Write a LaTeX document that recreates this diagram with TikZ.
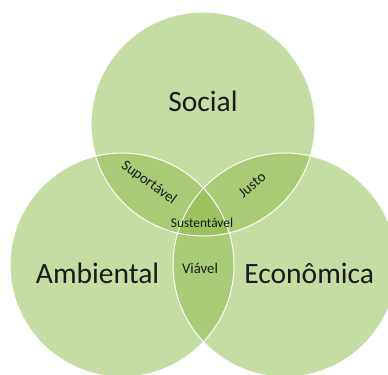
\documentclass[tikz,border=0pt]{standalone}
\usepackage{fontspec}
\setmainfont{Carlito}
\usepackage{xcolor}
\usetikzlibrary{positioning,calc}
\definecolor{venlight}{HTML}{C5DDA3}
\definecolor{venmid}{HTML}{A9CB76}
\definecolor{vendark}{HTML}{9CC25F}
\definecolor{ventext}{HTML}{1A1A1A}

\begin{document}
\begin{tikzpicture}[
  ring/.style={draw=white, line width=0.7pt},
  big/.style={font=\fontsize{21}{24}\selectfont, text=ventext},
  small/.style={font=\fontsize{10.5}{12}\selectfont, text=ventext},
  tiny/.style={font=\fontsize{9.5}{11}\selectfont, text=ventext},
]
  \useasboundingbox (0,0) rectangle (9.7,9.35);
  \def\rad{2.8cm}
  \coordinate (soc) at (5.075,6.25);
  \coordinate (amb) at (3.05,2.725);
  \coordinate (eco) at (7.125,2.725);

  % base circles
  \fill[venlight] (soc) circle[radius=\rad];
  \fill[venlight] (amb) circle[radius=\rad];
  \fill[venlight] (eco) circle[radius=\rad];

  % pairwise overlaps
  \begin{scope}
    \clip (soc) circle[radius=\rad];
    \fill[venmid] (amb) circle[radius=\rad];
    \fill[venmid] (eco) circle[radius=\rad];
  \end{scope}
  \begin{scope}
    \clip (amb) circle[radius=\rad];
    \fill[venmid] (eco) circle[radius=\rad];
  \end{scope}

  % centre
  \begin{scope}
    \clip (soc) circle[radius=\rad];
    \clip (amb) circle[radius=\rad];
    \fill[vendark] (eco) circle[radius=\rad];
  \end{scope}

  \draw[ring] (soc) circle[radius=\rad];
  \draw[ring] (amb) circle[radius=\rad];
  \draw[ring] (eco) circle[radius=\rad];

  \node[big] (social) at (5.075,6.82) {Social};
  \node[big] (ambiental) at (2.44,2.52) {Ambiental};
  \node[big] (economica) at (7.73,2.52) {Econômica};
  \node[small] (suport) at (3.72,4.78) [rotate=-36] {Suportável};
  \node[small] (justo) at (6.3,4.73) [rotate=40] {Justo};
  \node[tiny] (sust) at (5.05,3.77) {Sustentável};
  \node[small] (viavel) at (5.0,2.65) {Viável};
\end{tikzpicture}
\end{document}
